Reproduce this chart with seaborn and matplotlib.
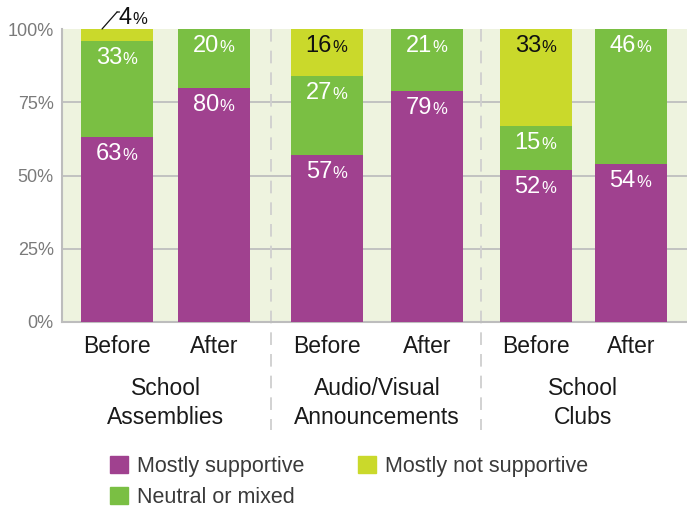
import numpy as np
import pandas as pd
import matplotlib.pyplot as plt
from matplotlib.patches import Patch
from matplotlib.transforms import offset_copy
import seaborn as sns

# data
channels = ['School\nAssemblies', 'Audio/Visual\nAnnouncements', 'School\nClubs']
periods = ['Before', 'After']
supportive = [63, 80, 57, 79, 52, 54]
neutral = [33, 20, 27, 21, 15, 46]
not_supportive = [4, 0, 16, 0, 33, 0]

# layout: bar centres (in units of bar spacing) and bar width
xpos = [0, 1, 2.156, 3.18, 4.30, 5.275]
bar_w = 0.739

PURPLE = '#A0418F'
GREEN = '#7ABF43'
YELLOW = '#CAD92B'
BG = '#EEF3DF'
PX = 0.72  # points per pixel at dpi 100

sns.set_style('white')
plt.rcParams['font.family'] = ['Liberation Sans', 'DejaVu Sans']

df = pd.DataFrame({
    'x': xpos,
    'period': periods * len(channels),
    'sup': supportive,
    'neu': neutral,
    'nos': not_supportive,
})
df['mid'] = df['sup'] + df['neu']
df['top'] = df['mid'] + df['nos']

fig = plt.figure(figsize=(6.87, 5.08), dpi=100)
ax = fig.add_axes([62 / 687, 1 - 322 / 508, 625 / 687, 293 / 508])
ax.set_facecolor(BG)

# stacked bars: draw totals first, then overlay the lower segments
gap = np.diff(xpos).min()
for col, c in [('top', YELLOW), ('mid', GREEN), ('sup', PURPLE)]:
    sns.barplot(data=df, x='x', y=col, orient='x', native_scale=True,
                width=bar_w / gap, color=c, saturation=1, errorbar=None,
                linewidth=0, zorder=3, ax=ax)

ax.set_xlim(-0.565, 5.852)
ax.set_ylim(0, 100)
ax.set_xlabel('')
ax.set_ylabel('')
ax.set_xticks([])
ax.set_yticks([0, 25, 50, 75, 100], labels=['0%', '25%', '50%', '75%', '100%'])
ax.tick_params(axis='y', length=0, pad=6, labelsize=13, labelcolor='#7A7A7A')
for v in [25, 50, 75]:
    ax.axhline(v, color='#BEBEBE', lw=1.3, zorder=1)
sns.despine(ax=ax)
for s in ['left', 'bottom']:
    ax.spines[s].set_color('#BDBDBD')
    ax.spines[s].set_linewidth(1.5)


def pct_text(x, y, v, color, dx, dy, ha_digits='right'):
    ax.annotate(f'{v}', xy=(x, y), xytext=(dx, dy), textcoords='offset points',
                ha=ha_digits, va='baseline', fontsize=17, color=color,
                zorder=5, annotation_clip=False)


def pct_label(x, ytop, v, color):
    dx, dy = 5 * PX, -23 * PX
    pct_text(x, ytop, v, color, dx, dy)
    ax.annotate('%', xy=(x, ytop), xytext=(dx + 0.2, dy),
                textcoords='offset points', ha='left', va='baseline',
                fontsize=12, color=color, zorder=5)


for _, r in df.iterrows():
    pct_label(r['x'], r['sup'], r['sup'], 'white')
    pct_label(r['x'], r['mid'], r['neu'], 'white')
    if r['nos'] >= 8:
        pct_label(r['x'], r['top'], r['nos'], '#111111')
    elif r['nos'] > 0:
        # small slice: label above the bar with a leader line
        start = offset_copy(ax.transData, fig=fig, x=-15, y=0, units='dots')
        end = offset_copy(ax.transData, fig=fig, x=0, y=17, units='dots')
        ax.annotate('', xy=(r['x'], r['top']), xycoords=start,
                    xytext=(r['x'], r['top']), textcoords=end,
                    arrowprops=dict(arrowstyle='-', color='#111111', lw=0.9,
                                    shrinkA=0, shrinkB=0),
                    annotation_clip=False)
        tip = offset_copy(ax.transData, fig=fig, x=2.5, y=17, units='dots')
        ax.annotate('', xy=(r['x'], r['top']), xycoords=end,
                    xytext=(r['x'], r['top']), textcoords=tip,
                    arrowprops=dict(arrowstyle='-', color='#111111', lw=0.9,
                                    shrinkA=0, shrinkB=0),
                    annotation_clip=False)
        pct_text(r['x'], r['top'], r['nos'], '#111111', 1 * PX, 5 * PX, 'left')
        ax.annotate('%', xy=(r['x'], r['top']), xytext=(1 * PX + 10.2, 5 * PX),
                    textcoords='offset points', ha='left', va='baseline',
                    fontsize=12, color='#111111', annotation_clip=False)

# category labels under the axis
xt = ax.get_xaxis_transform()
for x, p in zip(df['x'], df['period']):
    ax.annotate(p, xy=(x, 0), xycoords=xt, xytext=(0, -31 * PX),
                textcoords='offset points', ha='center', va='baseline',
                fontsize=16.5, color='#1A1A1A', annotation_clip=False)
for i, name in enumerate(channels):
    xc = (xpos[2 * i] + xpos[2 * i + 1]) / 2
    ax.annotate(name, xy=(xc, 0), xycoords=xt, xytext=(0, -81 * PX),
                textcoords='offset points', ha='center', va='center',
                fontsize=16.5, color='#1A1A1A', linespacing=1.3,
                annotation_clip=False)

# dashed separators between groups
for i in range(len(channels) - 1):
    m = (xpos[2 * i + 1] + xpos[2 * i + 2]) / 2
    ax.plot([m, m], [1, -108 / 293], transform=xt, color='#CFCFCF', lw=1.3,
            ls=(0, (7, 5)), clip_on=False, zorder=2)

handles = [Patch(color=PURPLE, label='Mostly supportive'),
           Patch(color=GREEN, label='Neutral or mixed'),
           Patch(color=YELLOW, label='Mostly not supportive')]
fig.legend(handles=handles, ncol=2, loc='upper left',
           bbox_to_anchor=(110 / 687, 1 - 456 / 508), frameon=False,
           fontsize=15.5, handlelength=0.82, handleheight=0.82,
           handletextpad=0.42, columnspacing=2.5, labelspacing=0.45,
           borderpad=0, borderaxespad=0, labelcolor='#3A3A3A')

fig.savefig('out.png', dpi=100)
